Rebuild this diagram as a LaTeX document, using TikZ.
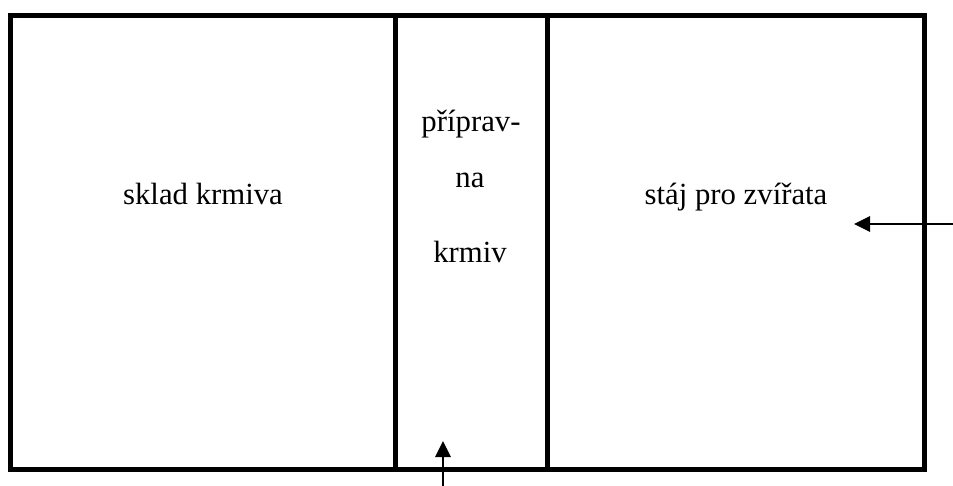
\documentclass[tikz,border=0pt]{standalone}
\usepackage{fontspec}
\setmainfont{Liberation Serif}
\usetikzlibrary{arrows.meta}
\begin{document}
\begin{tikzpicture}[x=0.02cm, y=-0.02cm, font=\fontsize{17.5}{21}\selectfont,
    wall/.style={line width=0.1cm},
    pointer/.style={line width=0.75pt, -{Triangle[length=0.32cm, width=0.31cm]}},
    label/.style={anchor=base, inner sep=0pt}]
    \useasboundingbox (0,0) rectangle (953,486);
    % walls
    \draw[wall] (10.5,15.5) rectangle (924.5,469.5);
    \foreach \x in {395.5,547} {
      \draw[wall] (\x,15.5) -- (\x,469.5);
    }
    % rooms
    \node[label] (sklad) at (203,205) {sklad krmiva};
    \node[label] (pripr1) at (471,132) {příprav-};
    \node[label] (pripr2) at (470,188) {na};
    \node[label] (pripr3) at (470,262) {krmiv};
    \node[label] (staj) at (736,205) {stáj pro zvířata};
    % entrances
    \coordinate (east in) at (953,224);
    \coordinate (east tip) at (854,224);
    \coordinate (south in) at (443,486);
    \coordinate (south tip) at (443,441);
    \draw[pointer] (east in) -- (east tip);
    \draw[pointer] (south in) -- (south tip);
\end{tikzpicture}
\end{document}
